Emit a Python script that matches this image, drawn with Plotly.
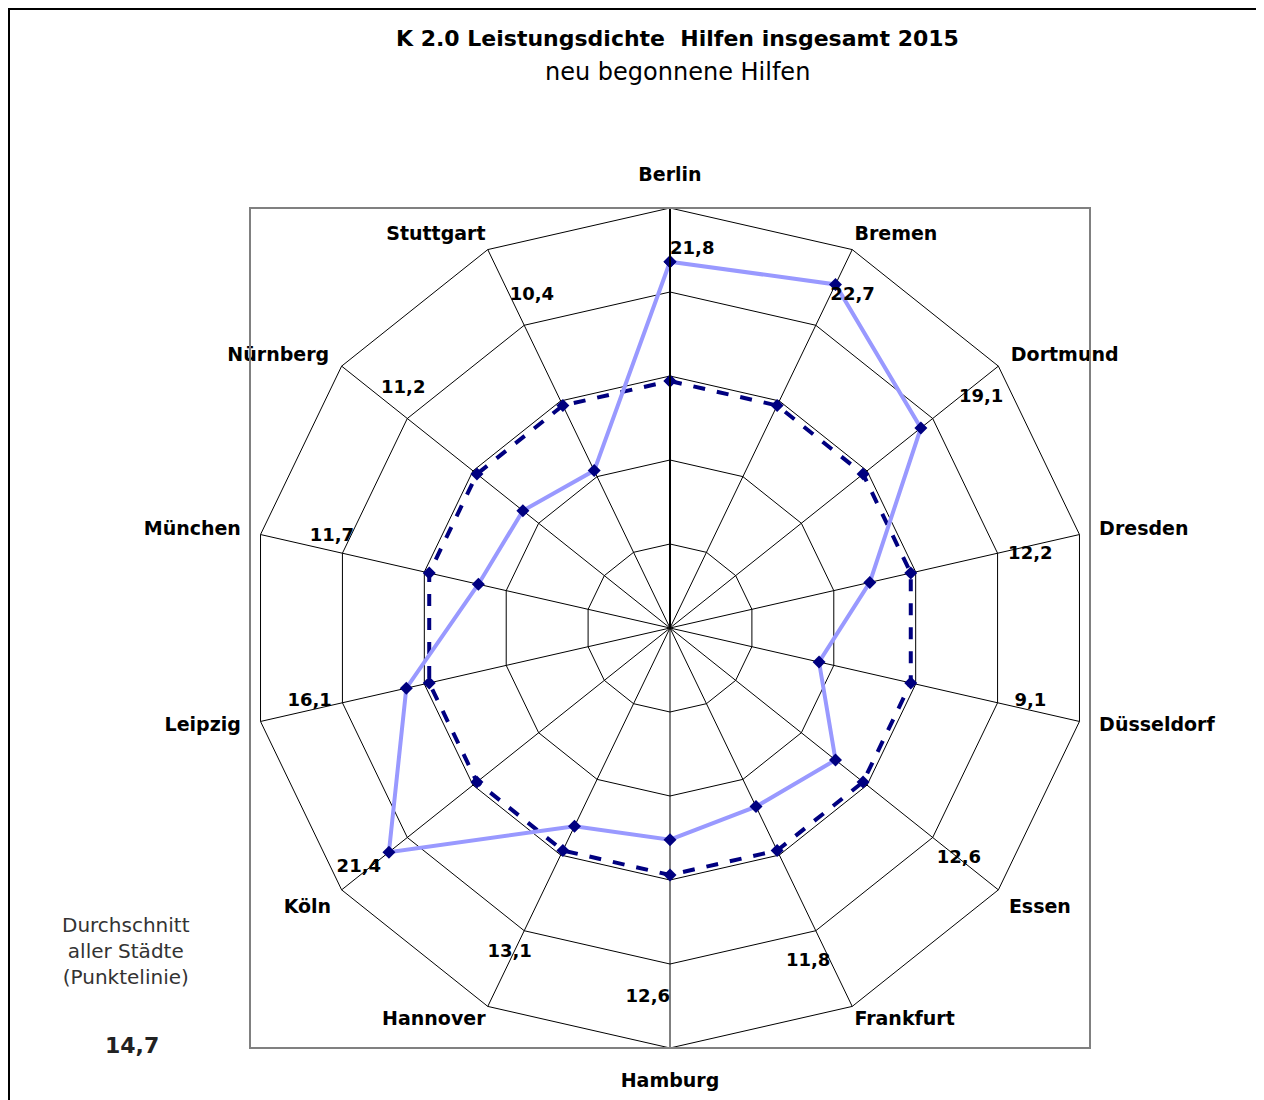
import plotly.graph_objects as go

cities = ["Berlin", "Bremen", "Dortmund", "Dresden", "Düsseldorf", "Essen", "Frankfurt",
          "Hamburg", "Hannover", "Köln", "Leipzig", "München", "Nürnberg", "Stuttgart"]
values = [21.8, 22.7, 19.1, 12.2, 9.1, 12.6, 11.8, 12.6, 13.1, 21.4, 16.1, 11.7, 11.2, 10.4]
average = 14.7
avg_values = [average] * len(cities)
value_labels = [f"{v:.1f}".replace(".", ",") for v in values]

# style: where each value label sits relative to its anchor on the spoke
value_label_pos = ["top right", "middle right", "middle right", "bottom center",
                   "top center", "middle center", "middle left", "middle left",
                   "top center", "bottom left", "top center", "top right",
                   "top right", "middle right"]

FONT = "DejaVu Sans"
# the page body has an 8px margin, so the figure is drawn 8px smaller
OFF = 8
W, H = 1264 - OFF, 1100 - OFF


def px(x):
    return (x - OFF) / W


def py(y):
    return 1 - (y - OFF) / H


# main polar area (reference pixels 250..1090 x 208..1048)
dom_x = [px(250), px(1090)]
dom_y = [py(1048), py(208)]
R_MAX = 25

# an invisible, larger overlay polar for the city names (same centre)
K = 1.1
cx, cy = (dom_x[0] + dom_x[1]) / 2, (dom_y[0] + dom_y[1]) / 2
hx, hy = (dom_x[1] - dom_x[0]) / 2 * K, (dom_y[1] - dom_y[0]) / 2 * K
dom2_x = [cx - hx, cx + hx]
dom2_y = [cy - hy, cy + hy]

n = len(cities)


def city_label_style(i):
    a = (i * 360.0 / n) % 360
    if a < 12 or a > 348:
        return "top center", R_MAX + 1.35
    if a < 40:
        return "top right", R_MAX + 0.3
    if a < 65:
        return "middle right", R_MAX + 0.95
    if a < 115:
        return "middle right", R_MAX + 1.2
    if a < 140:
        return "bottom right", R_MAX + 0.8
    if a < 168:
        return "bottom right", R_MAX + 0.3
    if a < 192:
        return "bottom center", R_MAX + 1.5
    if a < 220:
        return "bottom left", R_MAX + 0.3
    if a < 245:
        return "bottom left", R_MAX + 0.8
    if a < 295:
        return "middle left", R_MAX + 1.2
    if a < 320:
        return "middle left", R_MAX + 0.95
    return "top left", R_MAX + 0.3


city_pos = [city_label_style(i)[0] for i in range(n)]
city_r = [city_label_style(i)[1] for i in range(n)]

fig = go.Figure()

fig.add_trace(go.Scatterpolar(
    r=avg_values + [avg_values[0]], theta=cities + [cities[0]],
    mode="lines+markers",
    line=dict(color="#000080", width=4, dash="dash"),
    marker=dict(symbol="diamond", size=10, color="#000080"),
    subplot="polar", showlegend=False, hoverinfo="skip"))

fig.add_trace(go.Scatterpolar(
    r=values + [values[0]], theta=cities + [cities[0]],
    mode="lines+markers",
    line=dict(color="#9999FF", width=4),
    marker=dict(symbol="diamond", size=10, color="#000080"),
    subplot="polar", showlegend=False))

fig.add_trace(go.Scatterpolar(
    r=[22.0] * n, theta=cities, mode="text",
    text=value_labels, textposition=value_label_pos,
    textfont=dict(family=FONT, size=18, color="black", weight="bold"),
    subplot="polar", cliponaxis=False, showlegend=False, hoverinfo="skip"))

fig.add_trace(go.Scatterpolar(
    r=city_r, theta=cities, mode="text",
    text=cities, textposition=city_pos,
    textfont=dict(family=FONT, size=19, color="black", weight="bold"),
    subplot="polar2", cliponaxis=False, showlegend=False, hoverinfo="skip"))

fig.update_layout(
    width=W, height=H,
    margin=dict(l=0, r=0, t=0, b=0),
    paper_bgcolor="white",
    polar=dict(
        domain=dict(x=dom_x, y=dom_y),
        bgcolor="white",
        gridshape="linear",
        radialaxis=dict(range=[0, R_MAX], dtick=5, showticklabels=False, ticks="",
                        gridcolor="black", gridwidth=1, showline=True,
                        linecolor="black", linewidth=2, angle=90),
        angularaxis=dict(direction="clockwise", rotation=90,
                         categoryorder="array", categoryarray=cities,
                         gridcolor="black", gridwidth=1,
                         showline=True, linecolor="black", linewidth=1,
                         ticks="", showticklabels=False),
    ),
    polar2=dict(
        domain=dict(x=dom2_x, y=dom2_y),
        bgcolor="rgba(0,0,0,0)",
        radialaxis=dict(range=[0, R_MAX * K], visible=False),
        angularaxis=dict(direction="clockwise", rotation=90, type="category",
                         categoryorder="array", categoryarray=cities, visible=False),
    ),
)

fig.add_shape(type="rect", xref="paper", yref="paper",
              x0=dom_x[0], x1=dom_x[1], y0=dom_y[0], y1=dom_y[1],
              line=dict(color="#808080", width=2), layer="above")
fig.add_shape(type="rect", xref="paper", yref="paper",
              x0=1 / W, x1=1.01, y0=-0.01, y1=1 - 1 / H,
              line=dict(color="black", width=2))


def note(text, x, y, size, color="black"):
    fig.add_annotation(text=text, xref="paper", yref="paper", x=px(x), y=py(y),
                       xanchor="center", yanchor="middle", showarrow=False,
                       font=dict(family=FONT, size=size, color=color))


note("<b>K 2.0 Leistungsdichte  Hilfen insgesamt 2015</b>", 677, 38, 22)
note("neu begonnene Hilfen", 677, 72, 24)
note("Durchschnitt<br>aller Städte<br>(Punktelinie)", 126, 951, 20, "#333333")
note("<b>" + f"{average:.1f}".replace(".", ",") + "</b>", 132, 1045, 22, "#222222")

fig.write_html("out.html")
